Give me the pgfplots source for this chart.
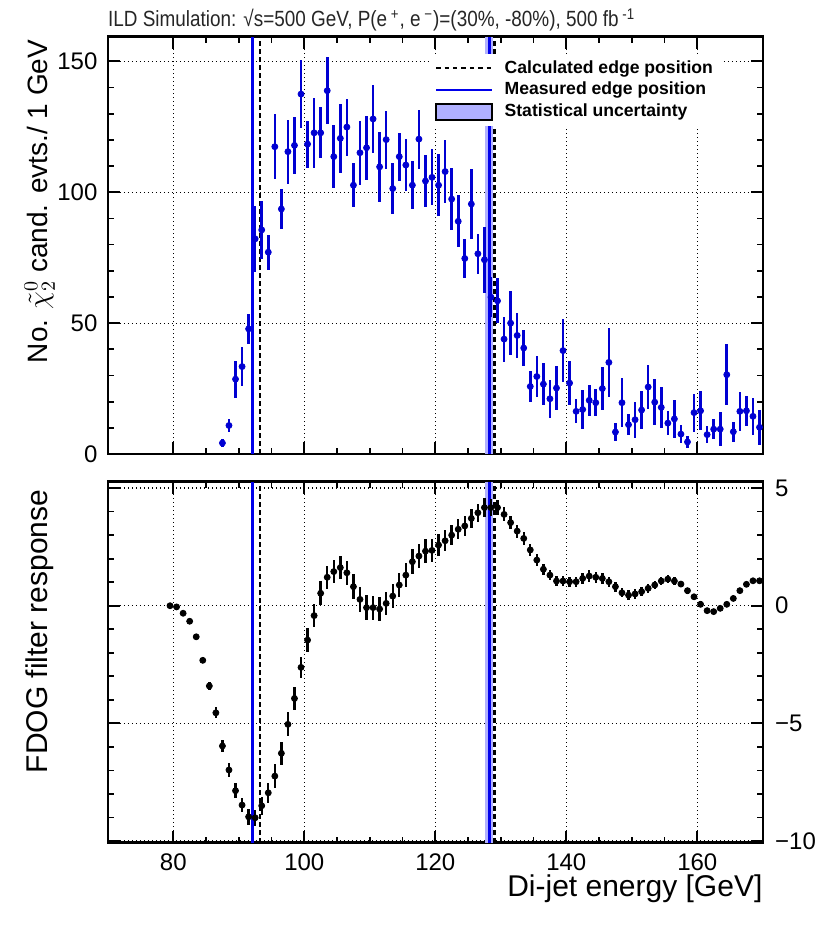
\documentclass[border=0pt]{standalone}
\usepackage{fontspec}
\setmainfont{Liberation Sans}
\newfontfamily\titlefont[FakeStretch=0.86]{Liberation Sans}
\usepackage{pgfplots}
\pgfplotsset{compat=1.18}
\usepackage{pgfplotstable}

\definecolor{dblue}{RGB}{0,0,210}
\definecolor{lblue}{RGB}{0,0,235}
\definecolor{bandc}{RGB}{176,176,255}

\pgfplotstableread{
x y e
87.5 4.2 1.5
88.5 10.9 2.5
89.5 28.6 7.1
90.5 33.4 7.4
91.5 47.8 5.7
92.5 82.2 12.5
93.5 85.6 11.1
94.5 77.1 6.7
95.5 117.4 12.5
96.5 93.6 7.7
97.5 115.5 12.2
98.5 117.9 10.9
99.5 137.5 13.1
100.5 118.4 9.0
101.5 122.7 13.4
102.5 122.7 9.7
103.5 138.8 12.8
104.5 113.6 12.1
105.5 120.6 13.2
106.5 124.9 10.9
107.5 102.7 8.3
108.5 115.1 12.3
109.5 117.0 12.3
110.5 128.0 13.0
111.5 109.7 13.4
112.5 120.1 11.1
113.5 101.4 9.7
114.5 113.6 9.2
115.5 110.4 10.1
116.5 102.7 9.1
117.5 120.3 11.3
118.5 104.3 10.1
119.5 105.7 10.7
120.5 102.7 11.9
121.5 107.9 12.1
122.5 97.4 11.8
123.5 88.9 10.0
124.5 74.7 7.5
125.5 95.5 13.4
126.5 76.5 7.7
127.5 74.2 12.7
128.5 59.9 7.6
129.5 58.5 8.6
130.5 43.9 8.6
131.5 50.0 12.1
132.5 45.3 8.7
133.5 40.5 6.9
134.5 25.8 5.9
135.5 29.6 8.0
136.5 26.7 8.0
137.5 21.1 7.2
138.5 25.2 8.3
139.5 39.5 12.1
140.5 27.1 8.4
141.5 16.3 4.6
142.5 17.0 7.3
143.5 20.5 5.9
144.5 19.6 5.2
145.5 25.0 8.3
146.5 35.0 13.1
147.5 8.4 3.6
148.5 19.6 9.3
149.5 11.2 4.1
150.5 13.1 6.9
151.5 16.8 7.4
152.5 25.6 8.5
153.5 19.8 8.8
154.5 17.8 7.8
155.5 11.8 4.5
156.5 13.4 7.1
157.5 7.6 3.5
158.5 4.6 2.4
159.5 15.8 7.3
160.5 16.5 7.4
161.5 7.4 3.2
162.5 9.5 3.9
163.5 9.5 6.4
164.5 30.3 11.7
165.5 8.5 3.8
166.5 16.3 7.4
167.5 16.5 5.7
168.5 14.4 7.1
169.5 10.2 6.7
}\topdata

\pgfplotstableread{
x y e
79.5 0.00 0.03
80.5 -0.05 0.04
81.5 -0.32 0.06
82.5 -0.66 0.08
83.5 -1.32 0.10
84.5 -2.32 0.13
85.5 -3.41 0.19
86.5 -4.55 0.23
87.5 -5.96 0.27
88.5 -6.98 0.28
89.5 -7.86 0.32
90.5 -8.47 0.30
91.5 -8.97 0.34
92.5 -9.01 0.35
93.5 -8.50 0.39
94.5 -7.95 0.42
95.5 -7.24 0.50
96.5 -6.27 0.50
97.5 -5.04 0.51
98.5 -3.94 0.50
99.5 -2.62 0.46
100.5 -1.46 0.50
101.5 -0.42 0.50
102.5 0.53 0.50
103.5 1.21 0.48
104.5 1.45 0.48
105.5 1.62 0.50
106.5 1.40 0.50
107.5 0.81 0.53
108.5 0.27 0.52
109.5 -0.08 0.52
110.5 -0.08 0.51
111.5 -0.14 0.50
112.5 0.10 0.50
113.5 0.41 0.50
114.5 0.88 0.50
115.5 1.30 0.50
116.5 1.87 0.52
117.5 2.11 0.52
118.5 2.32 0.50
119.5 2.35 0.48
120.5 2.58 0.46
121.5 2.76 0.45
122.5 3.00 0.43
123.5 3.25 0.42
124.5 3.39 0.41
125.5 3.71 0.40
126.5 3.95 0.39
127.5 4.17 0.39
128.5 4.17 0.36
129.5 4.17 0.33
130.5 3.88 0.30
131.5 3.53 0.29
132.5 3.17 0.28
133.5 2.86 0.27
134.5 2.37 0.25
135.5 1.94 0.24
136.5 1.55 0.23
137.5 1.30 0.22
138.5 1.05 0.22
139.5 1.05 0.22
140.5 1.02 0.22
141.5 1.02 0.22
142.5 1.16 0.22
143.5 1.26 0.24
144.5 1.21 0.24
145.5 1.16 0.23
146.5 1.02 0.22
147.5 0.81 0.21
148.5 0.55 0.20
149.5 0.45 0.20
150.5 0.50 0.20
151.5 0.60 0.19
152.5 0.74 0.18
153.5 0.88 0.18
154.5 1.05 0.17
155.5 1.13 0.16
156.5 1.05 0.15
157.5 0.92 0.14
158.5 0.64 0.13
159.5 0.38 0.12
160.5 0.06 0.12
161.5 -0.21 0.12
162.5 -0.25 0.11
163.5 -0.11 0.10
164.5 0.06 0.09
165.5 0.31 0.08
166.5 0.64 0.07
167.5 0.91 0.06
168.5 1.06 0.05
169.5 1.06 0.05
}\botdata

\pgfplotsset{
  ildaxis/.style={
    scale only axis, width=327.5pt, xmin=70, xmax=170,
    axis line style={line width=1.25pt},
    every tick/.style={black, line width=0.9pt},
    major tick length=6pt, minor tick length=3pt,
    xtick={80,100,120,140,160}, minor x tick num=3,
    grid=major,
    major grid style={black, line width=0.6pt, dash pattern=on 0.6pt off 1.4pt},
    tick label style={font=\fontsize{12}{14}\selectfont, inner sep=0pt},
  },
}

\begin{document}
\begin{tikzpicture}
\useasboundingbox (0,0) rectangle (415pt,-463pt);

\begin{axis}[ildaxis,
  at={(53.9pt,-18.25pt)}, anchor=north west, height=208.75pt,
  ymin=0, ymax=159.5,
  ytick={0,50,100,150}, yticklabels={0,50,100,150}, minor y tick num=4,
  xticklabels={,,,,},
  yticklabel style={xshift=-5pt},
  ylabel={No. $\tilde{\chi}^{0}_{2}$ cand. evts./ 1 GeV},
  ylabel style={at={(rel axis cs:-0.0916,1.0089)}, anchor=base east,
    font=\fontsize{14}{16}\selectfont},
  title={\titlefont ILD Simulation: √s=500 GeV, P(e\,\textsuperscript{+}, e\,\textsuperscript{−})=(30\%, -80\%), 500 fb\,\textsuperscript{-1}},
  title style={at={(rel axis cs:0.0,1.0228)}, anchor=base west, yshift=-6pt,
    font=\fontsize{11}{13}\selectfont, text=black!85, inner sep=0pt},
  legend style={at={(rel axis cs:0.493,0.958)}, anchor=north west,
    draw=none, fill=white, font=\bfseries\fontsize{8.8}{10}\selectfont,
    row sep=1pt, inner xsep=2pt, inner ysep=2pt,
    nodes={inner ysep=1pt, inner xsep=2pt}},
  legend cell align=left,
]
\addlegendimage{legend image code/.code={\draw[black, line width=1pt, dash pattern=on 2.2pt off 2pt] (0pt,0pt) -- (28pt,0pt); \path (32pt,0pt);}}
\addlegendentry{Calculated edge position}
\addlegendimage{legend image code/.code={\draw[lblue, line width=1.1pt] (0pt,0pt) -- (28pt,0pt); \path (32pt,0pt);}}
\addlegendentry{Measured edge position}
\addlegendimage{legend image code/.code={\draw[black, line width=0.9pt, fill=bandc] (0pt,-4pt) rectangle (28pt,4pt); \path (32pt,0pt);}}
\addlegendentry{Statistical uncertainty}

\addplot[forget plot, draw=none, fill=bandc] coordinates {(127.65,0) (128.75,0) (128.75,159.5) (127.65,159.5)} -- cycle;
\addplot[forget plot, lblue, line width=1.5pt] coordinates {(92.12,0) (92.12,159.5)};
\addplot[forget plot, lblue, line width=1.5pt] coordinates {(128.35,0) (128.35,159.5)};
\addplot[forget plot, black, line width=1.3pt, dash pattern=on 2.5pt off 1.5pt] coordinates {(93.24,0) (93.24,159.5)};
\addplot[forget plot, black, line width=1.3pt, dash pattern=on 2.5pt off 1.5pt] coordinates {(129.07,0) (129.07,159.5)};
\addplot[forget plot, only marks, dblue, mark=*, mark size=1.5pt,
  error bars/.cd, y dir=both, y explicit, error mark=none,
  error bar style={line width=1.3pt, dblue}]
  table[x=x, y=y, y error=e] {\topdata};
\end{axis}

\begin{axis}[ildaxis,
  at={(53.9pt,-240.85pt)}, anchor=north west, height=180.5pt,
  ymin=-10.07, ymax=5.27,
  ytick={-10,-5,0,5}, yticklabels={−10,−5,0,5}, minor y tick num=4,
  yticklabel pos=right,
  yticklabel style={anchor=west, xshift=6pt},
  xticklabels={80,100,120,140,160},
  xticklabel style={anchor=north, yshift=-5.5pt},
  xlabel={Di-jet energy [GeV]},
  xlabel style={at={(rel axis cs:1,-0.1496)}, anchor=base east,
    font=\fontsize{15}{17}\selectfont, inner sep=0pt},
  ylabel={FDOG filter response},
  ylabel style={at={(rel axis cs:-0.0916,0.997)}, anchor=base east,
    font=\fontsize{15}{17}\selectfont},
]
\addplot[forget plot, draw=none, fill=bandc] coordinates {(127.65,-10.07) (128.75,-10.07) (128.75,5.27) (127.65,5.27)} -- cycle;
\addplot[forget plot, lblue, line width=1.5pt] coordinates {(92.12,-10.07) (92.12,5.27)};
\addplot[forget plot, lblue, line width=1.5pt] coordinates {(128.35,-10.07) (128.35,5.27)};
\addplot[forget plot, black, line width=1.3pt, dash pattern=on 2.5pt off 1.5pt] coordinates {(93.24,-10.07) (93.24,5.27)};
\addplot[forget plot, black, line width=1.3pt, dash pattern=on 2.5pt off 1.5pt] coordinates {(129.07,-10.07) (129.07,5.27)};
\addplot[forget plot, only marks, black, mark=*, mark size=1.5pt,
  error bars/.cd, y dir=both, y explicit, error mark=none,
  error bar style={line width=1.2pt, black}]
  table[x=x, y=y, y error=e] {\botdata};
\end{axis}
\end{tikzpicture}
\end{document}
